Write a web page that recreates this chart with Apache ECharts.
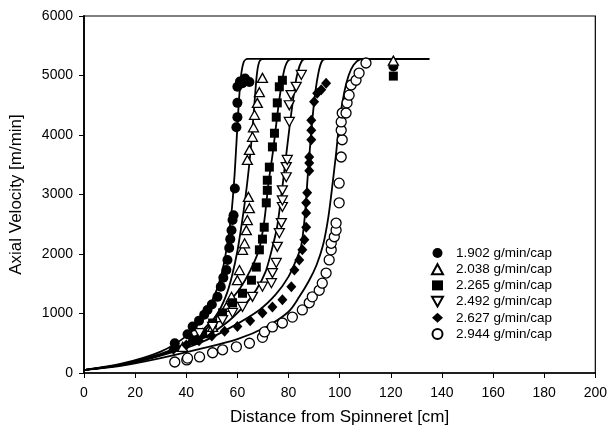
<!DOCTYPE html>
<html><head><meta charset="utf-8">
<script src="https://cdn.jsdelivr.net/npm/echarts@6/dist/echarts.min.js"></script>
<style>html,body{margin:0;padding:0;background:#fff}#c{width:610px;height:432px}</style>
</head><body><div id="c"></div>
<script>
var seriesNames = ['1.902 g/min/cap','2.038 g/min/cap','2.265 g/min/cap','2.492 g/min/cap','2.627 g/min/cap','2.944 g/min/cap'];
var xTicks = [0,20,40,60,80,100,120,140,160,180,200];
var yTicks = [0,1000,2000,3000,4000,5000,6000];

// measured points [distance cm, velocity m/min]
var pts1902 = [[35.5,500],[40.5,650],[42.5,780],[45,880],[47,980],[48.3,1060],[50,1150],[52.2,1280],[53.5,1450],[54.5,1600],[55.7,1730],[56.1,1900],[56.8,2100],[57.2,2250],[57.7,2400],[58.1,2570],[58.5,2650],[59,3100],[59.6,4130],[60,4300],[60,4540],[60,4810],[61,4900],[62,4870],[63,4950],[64.7,4890],[121,5150]];
var pts2038 = [[38.6,440],[42.5,555],[46.4,670],[50.3,775],[53,940],[55.7,1110],[57.7,1280],[60,1560],[60.8,1730],[62,2070],[62.8,2180],[63.5,2400],[63.9,2570],[64.7,2770],[64.3,2960],[63.9,3580],[64.7,3750],[65.9,3970],[66.3,4130],[66.7,4340],[67.8,4540],[68.6,4720],[69.8,4960],[121,5250]];
var pts2265 = [[42.5,555],[46.4,670],[50.3,840],[54.2,1010],[58.1,1180],[62,1340],[65.5,1560],[67.4,1780],[68.6,2070],[69.8,2250],[70.5,2450],[71.3,2860],[71.7,3070],[71.7,3240],[72.5,3460],[73.7,3800],[74.5,4030],[75.2,4300],[75.6,4540],[76.4,4810],[77.6,4920],[121,4990]];
var pts2492 = [[45.2,670],[50.3,775],[54.2,890],[58.1,1010],[62,1110],[65.9,1280],[69.8,1450],[73.3,1510],[73.7,1680],[75.2,1850],[75.6,2120],[76.4,2350],[77.2,2520],[77.6,2790],[77.6,2900],[77.6,3070],[79.1,3290],[79.1,3460],[79.5,3580],[80.3,4220],[80.3,4500],[81,4670],[83,4810],[85,5010]];
var pts2627 = [[35,400],[40,470],[45,540],[50,620],[55,700],[60,780],[65,880],[69.8,1010],[73.7,1110],[77.6,1230],[81.1,1450],[82.3,1730],[84.2,1900],[85.4,2070],[86.2,2240],[86.9,2450],[86.9,2690],[86.9,2860],[87.3,3030],[88.1,3400],[88.1,3530],[88.1,3630],[88.9,3920],[88.9,4080],[88.9,4250],[90,4560],[91.2,4700],[92.8,4760],[94.7,4870]];
var pts2944 = [[35.5,185],[40.2,220],[40.5,250],[45.2,270],[50.3,340],[54.2,390],[59.6,440],[64.7,500],[69.8,600],[70.6,690],[73.7,775],[77.6,840],[81.5,940],[85.4,1060],[88.1,1180],[89.3,1280],[92,1390],[93.2,1510],[94.7,1680],[95.9,1900],[96.7,2070],[96.7,2180],[97.9,2290],[98.6,2400],[98.6,2520],[99.8,2860],[99.8,3190],[100.6,3630],[101,3920],[100.6,4080],[100.6,4220],[101,4370],[102.5,4370],[102.9,4540],[103.7,4670],[104.5,4840],[106.4,4920],[107.6,5040],[110.3,5210]];

// model curves
var fit1902 = [[0,50],[15,160],[30,360],[40,620],[46,900],[51,1300],[54,1700],[56,2150],[57.7,2700],[59,3400],[60.2,4300],[61.3,4950],[62.5,5230],[64,5280],[135,5280]];
var fit2038 = [[0,50],[15,150],[30,320],[40,500],[47,700],[53,1060],[56,1350],[58,1650],[60,2050],[61.5,2450],[63,2900],[64.5,3450],[65.7,4000],[66.8,4600],[67.7,5050],[68.8,5250],[71,5280],[135,5280]];
var fit2265 = [[0,50],[15,145],[30,310],[42,560],[50,880],[56,1160],[61,1420],[65,1720],[68.5,2080],[70.5,2550],[72.2,3200],[74,3750],[75.8,4400],[77.4,4880],[78.7,5150],[80.5,5270],[83,5280],[135,5280]];
var fit2492 = [[0,50],[15,140],[30,300],[45,550],[55,820],[62,1100],[67.4,1400],[71,1700],[73.5,2080],[75.5,2450],[76.8,2850],[78.5,3450],[80.3,4100],[81.8,4600],[83.3,5000],[85.3,5250],[88,5280],[135,5280]];
var fit2627 = [[0,50],[15,135],[30,290],[45,500],[58,780],[68.6,1060],[75,1320],[80,1620],[83,1900],[85,2150],[86.4,2650],[87.5,3300],[88.7,3950],[90,4550],[91.5,5000],[93.2,5250],[96,5280],[135,5280]];
var fit2944 = [[0,50],[15,125],[30,250],[45,400],[60,570],[71,770],[80,1030],[84.2,1280],[88,1550],[91,1820],[93.5,2150],[95.5,2600],[97,3100],[98.5,3650],[100,4250],[101.8,4720],[103.5,5000],[105.5,5180],[108,5270],[111,5280],[135,5280]];

var allPts = [pts1902, pts2038, pts2265, pts2492, pts2627, pts2944];
var allFits = [fit1902, fit2038, fit2265, fit2492, fit2627, fit2944];
var symbols = ['circle','triangle','rect','path://M0,0 L10,0 L5,9 Z','diamond','circle'];
var filled = [true,false,true,false,true,false];
var sizes = [[10,10],[10,9],[9,9],[10,9],[10,11],[10,10]];

var series = [];
allFits.forEach(function(f){
  series.push({type:'line', data:f, showSymbol:false, symbol:'none', smooth:0.3,
    lineStyle:{color:'#000', width:1.8}, z:2, silent:true, legendHoverLink:false});
});
allPts.forEach(function(p,i){
  series.push({type:'scatter', name:seriesNames[i], data:p, symbol:symbols[i], symbolSize:sizes[i], z:3,
    itemStyle:{color: filled[i] ? '#000' : '#fff', borderColor:'#000', borderWidth: filled[i] ? 0 : 1.3, opacity:1}});
});

var chart = echarts.init(document.getElementById('c'), null, {renderer:'canvas'});
chart.setOption({
  animation:false,
  backgroundColor:'#fff',
  textStyle:{fontFamily:'Liberation Sans, Arial, sans-serif'},
  grid:{left:84, right:13, top:16, bottom:59, show:true, borderColor:'#000', borderWidth:1.2, backgroundColor:'transparent'},
  legend:{data:seriesNames, orient:'vertical', left:426, top:241, itemWidth:11, itemHeight:10, itemGap:2.2,
    textStyle:{fontSize:13.5, lineHeight:14, color:'#000', fontFamily:'Liberation Sans, Arial, sans-serif', padding:[0,0,0,8]}, selectedMode:false},
  xAxis:{type:'value', min:0, max:200, interval:20, name:'Distance from Spinneret [cm]', nameLocation:'middle', nameGap:36,
    nameTextStyle:{fontSize:17, color:'#000'},
    axisLine:{lineStyle:{color:'#000', width:1.5}}, axisTick:{show:true, length:5, lineStyle:{color:'#000'}},
    axisLabel:{color:'#000', fontSize:14, margin:13, formatter:function(v){return String(v);}}, splitLine:{show:false}},
  yAxis:{type:'value', min:0, max:6000, interval:1000, name:'Axial Velocity [m/min]', nameLocation:'middle', nameGap:59, nameRotate:90,
    nameTextStyle:{fontSize:17, color:'#000'},
    axisLine:{show:true, lineStyle:{color:'#000', width:1.8}}, axisTick:{show:true, length:5, lineStyle:{color:'#000'}},
    axisLabel:{color:'#000', fontSize:14, margin:11, formatter:function(v){return String(v);}}, splitLine:{show:false}},
  series:series
});
</script></body></html>
